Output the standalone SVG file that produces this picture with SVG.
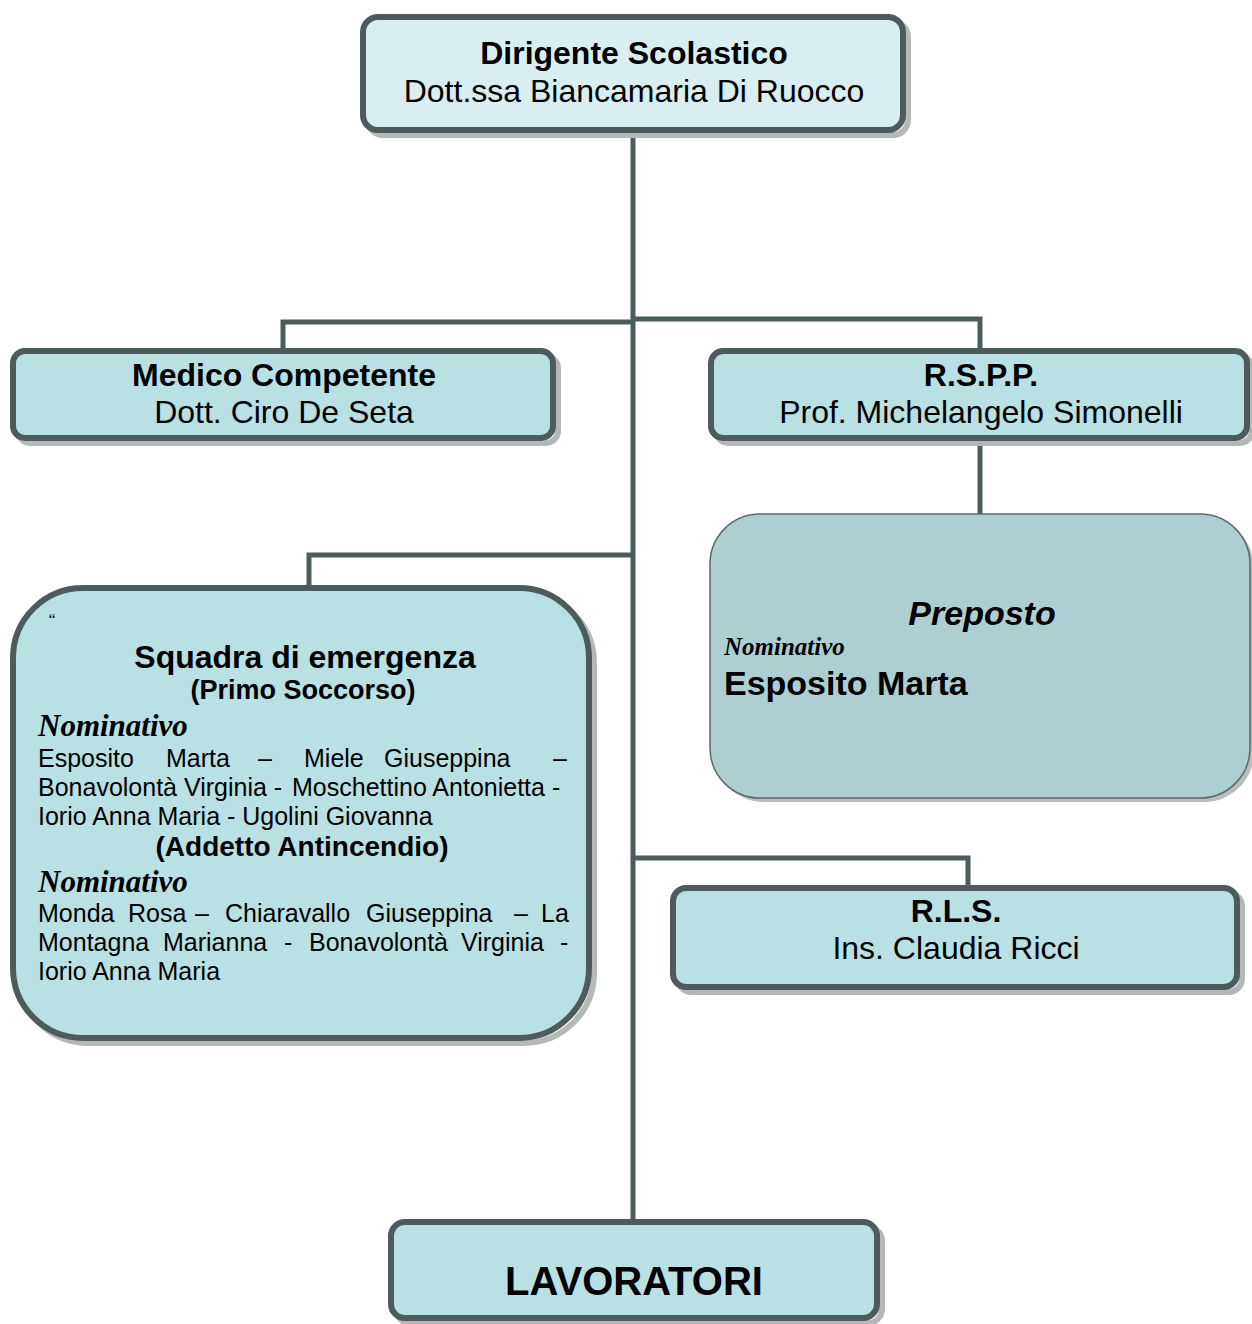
<svg xmlns="http://www.w3.org/2000/svg" width="1252" height="1324" viewBox="0 0 1252 1324">
<style>
.box{fill:#b9e0e3;stroke:#4d5b5c;stroke-width:6}
.shadow{fill:none;stroke:#b4b8b8;stroke-width:6}
.conn{fill:none;stroke:#4d5b5c;stroke-width:5}
.t{font-family:"Liberation Sans",Arial,sans-serif;fill:#000}
.b{font-weight:bold}
.c{text-anchor:middle}
.nom{font-family:"Liberation Serif","Times New Roman",serif;font-style:italic;font-weight:bold}
</style>
<rect width="1252" height="1324" fill="#fff"/>
<g id="connectors">
<path class="conn" d="M633 133V1220"/>
<path class="conn" d="M633 322H283V348"/>
<path class="conn" d="M633 319H980V348"/>
<path class="conn" d="M980 441V514"/>
<path class="conn" d="M633 555H309V585"/>
<path class="conn" d="M633 858H968V885"/>
</g>
<g id="dirigente">
<rect class="shadow" x="368" y="22" width="540" height="113" rx="15"/>
<rect class="box" x="363" y="17" width="540" height="113" rx="15" style="fill:#d9eef0"/>
<text class="t b c" x="634" y="64" font-size="32">Dirigente Scolastico</text>
<text class="t c" x="634" y="102" font-size="32">Dott.ssa Biancamaria Di Ruocco</text>
</g>
<g id="medico">
<rect class="shadow" x="18" y="356" width="540" height="87" rx="12"/>
<rect class="box" x="13" y="351" width="540" height="87" rx="12"/>
<text class="t b c" x="284" y="386" font-size="32">Medico Competente</text>
<text class="t c" x="284" y="423" font-size="32">Dott. Ciro De Seta</text>
</g>
<g id="rspp">
<rect class="shadow" x="716" y="356" width="536" height="87" rx="12"/>
<rect class="box" x="711" y="351" width="536" height="87" rx="12"/>
<text class="t b c" x="981" y="386" font-size="32">R.S.P.P.</text>
<text class="t c" x="981" y="423" font-size="32">Prof. Michelangelo Simonelli</text>
</g>
<g id="preposto">
<rect x="714" y="518" width="540" height="284" rx="50" fill="#b8bcbc"/>
<rect x="710" y="514" width="540" height="284" rx="50" fill="#aecfd2" stroke="#5a6a6a" stroke-width="1.5"/>
<text class="t b c" x="982" y="625" font-size="34" font-style="italic">Preposto</text>
<text class="nom" x="724" y="655" font-size="25">Nominativo</text>
<text class="t b" x="724" y="695" font-size="34">Esposito Marta</text>
</g>
<g id="squadra">
<rect class="shadow" x="18" y="593" width="576" height="450" rx="70"/>
<rect class="box" x="13" y="588" width="576" height="450" rx="70"/>
<text x="47" y="625" font-family="Liberation Serif,serif" font-style="italic" font-size="16">“</text>
<text class="t b c" x="305" y="668" font-size="32">Squadra di emergenza</text>
<text class="t b c" x="303" y="699" font-size="27">(Primo Soccorso)</text>
<text class="nom" x="38" y="736" font-size="31">Nominativo</text>
<text class="t" y="767" font-size="25"><tspan x="38">Esposito</tspan><tspan x="166">Marta</tspan><tspan x="258">–</tspan><tspan x="304">Miele</tspan><tspan x="384">Giuseppina</tspan><tspan x="553">–</tspan></text>
<text class="t" y="796" font-size="25"><tspan x="38">Bonavolontà Virginia -</tspan><tspan x="292">Moschettino Antonietta -</tspan></text>
<text class="t" x="38" y="825" font-size="25">Iorio Anna Maria - Ugolini Giovanna</text>
<text class="t b c" x="302" y="856" font-size="28">(Addetto Antincendio)</text>
<text class="nom" x="38" y="892" font-size="31">Nominativo</text>
<text class="t" y="922" font-size="25"><tspan x="38">Monda</tspan><tspan x="128">Rosa</tspan><tspan x="195">–</tspan><tspan x="225">Chiaravallo</tspan><tspan x="366">Giuseppina</tspan><tspan x="514">–</tspan><tspan x="541">La</tspan></text>
<text class="t" y="951" font-size="25"><tspan x="38">Montagna</tspan><tspan x="163">Marianna</tspan><tspan x="284">-</tspan><tspan x="309">Bonavolontà</tspan><tspan x="461">Virginia</tspan><tspan x="560">-</tspan></text>
<text class="t" x="38" y="980" font-size="25">Iorio Anna Maria</text>
</g>
<g id="rls">
<rect class="shadow" x="678" y="893" width="564" height="99" rx="13"/>
<rect class="box" x="673" y="888" width="564" height="99" rx="13"/>
<text class="t b c" x="956" y="922" font-size="32">R.L.S.</text>
<text class="t c" x="956" y="959" font-size="32">Ins. Claudia Ricci</text>
</g>
<g id="lavoratori">
<rect class="shadow" x="396" y="1227" width="486" height="96" rx="14"/>
<rect class="box" x="391" y="1222" width="486" height="96" rx="14"/>
<text class="t b c" x="634" y="1295" font-size="40">LAVORATORI</text>
</g>
</svg>
